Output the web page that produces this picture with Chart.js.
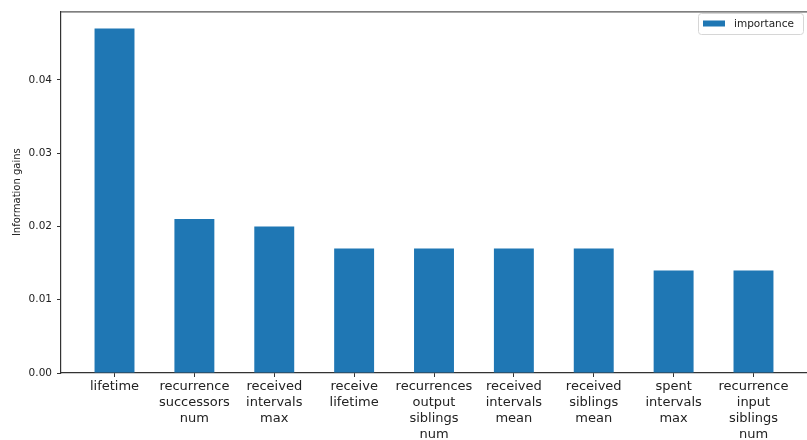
<!DOCTYPE html>
<html>
<head>
<meta charset="utf-8">
<script src="https://cdn.jsdelivr.net/npm/chart.js@4/dist/chart.umd.min.js"></script>
<style>
  html, body { margin: 0; padding: 0; background: #fff; }
  #wrap { width: 807px; height: 440px; position: relative; }
</style>
</head>
<body>
<div id="wrap"><canvas id="c"></canvas></div>
<script>
// Feature names (one line per array entry) and their information gains
const features = [
  ["lifetime"],
  ["recurrence", "successors", "num"],
  ["received", "intervals", "max"],
  ["receive", "lifetime"],
  ["recurrences", "output", "siblings", "num"],
  ["received", "intervals", "mean"],
  ["received", "siblings", "mean"],
  ["spent", "intervals", "max"],
  ["recurrence", "input", "siblings", "num"]
];
const importance = [0.047, 0.021, 0.020, 0.017, 0.017, 0.017, 0.017, 0.014, 0.014];
const yTicks = [0.00, 0.01, 0.02, 0.03, 0.04];
const seriesName = "importance";

const BAR = "#1f77b4";
const INK = "#222";
const AXIS = "#333";

// Legend box in the top-right corner of the plot, plus the top frame line
const frameAndLegend = {
  id: "frameAndLegend",
  afterDraw(chart) {
    const { ctx, chartArea: a } = chart;
    ctx.save();
    // top spine
    ctx.strokeStyle = "#555";
    ctx.lineWidth = 1.2;
    ctx.beginPath();
    ctx.moveTo(a.left, a.top + 0.5);
    ctx.lineTo(a.right, a.top + 0.5);
    ctx.stroke();

    // legend frame
    const bx = 698.5, by = 13.5, bw = 105, bh = 21, r = 3;
    ctx.fillStyle = "rgba(255,255,255,0.85)";
    ctx.strokeStyle = "#d6d6d6";
    ctx.lineWidth = 1;
    ctx.beginPath();
    ctx.moveTo(bx + r, by);
    ctx.lineTo(bx + bw - r, by);
    ctx.arcTo(bx + bw, by, bx + bw, by + r, r);
    ctx.lineTo(bx + bw, by + bh - r);
    ctx.arcTo(bx + bw, by + bh, bx + bw - r, by + bh, r);
    ctx.lineTo(bx + r, by + bh);
    ctx.arcTo(bx, by + bh, bx, by + bh - r, r);
    ctx.lineTo(bx, by + r);
    ctx.arcTo(bx, by, bx + r, by, r);
    ctx.closePath();
    ctx.fill();
    ctx.stroke();

    ctx.fillStyle = BAR;
    ctx.fillRect(703, 20.5, 22, 6);
    ctx.fillStyle = INK;
    ctx.font = "10.5px 'DejaVu Sans'";
    ctx.textBaseline = "middle";
    ctx.textAlign = "left";
    ctx.fillText(seriesName, 734, 24);
    ctx.restore();
  }
};

new Chart(document.getElementById("c"), {
  type: "bar",
  data: {
    datasets: [{
      label: seriesName,
      data: importance.map((v, i) => ({ x: i, y: v })),
      backgroundColor: BAR,
      borderWidth: 0,
      barPercentage: 0.5,
      categoryPercentage: 1.0
    }]
  },
  options: {
    responsive: true,
    maintainAspectRatio: false,
    animation: false,
    layout: { padding: { top: 9, right: 0, left: 0, bottom: 0 } },
    plugins: { legend: { display: false }, tooltip: { enabled: false } },
    scales: {
      x: {
        type: "linear",
        offset: false,
        min: -0.67,
        max: 8.67,
        afterBuildTicks: s => { s.ticks = features.map((_, i) => ({ value: i })); },
        afterFit: s => { s.height = 67; },
        grid: { display: true, offset: false, drawOnChartArea: false, drawTicks: true, tickLength: 4, tickColor: AXIS, tickWidth: 1 },
        border: { display: true, color: AXIS, width: 1.2 },
        ticks: {
          autoSkip: false,
          maxRotation: 0,
          padding: 2,
          color: INK,
          font: { family: "'DejaVu Sans'", size: 13, lineHeight: 1.23 },
          callback: v => features[v] || ""
        }
      },
      y: {
        min: 0,
        max: 0.04935,
        afterBuildTicks: s => { s.ticks = yTicks.map(v => ({ value: v })); },
        afterFit: s => { s.width = 61; },
        grid: { display: true, drawOnChartArea: false, drawTicks: true, tickLength: 4, tickColor: AXIS, tickWidth: 1 },
        border: { display: true, color: AXIS, width: 1.2 },
        title: {
          display: true,
          text: "Information gains",
          color: INK,
          font: { family: "'DejaVu Sans'", size: 10 },
          padding: { top: 11, bottom: 0 }
        },
        ticks: {
          padding: 5,
          color: INK,
          font: { family: "'DejaVu Sans'", size: 10.5 },
          callback: v => v.toFixed(2)
        }
      }
    }
  },
  plugins: [frameAndLegend]
});
</script>
</body>
</html>
